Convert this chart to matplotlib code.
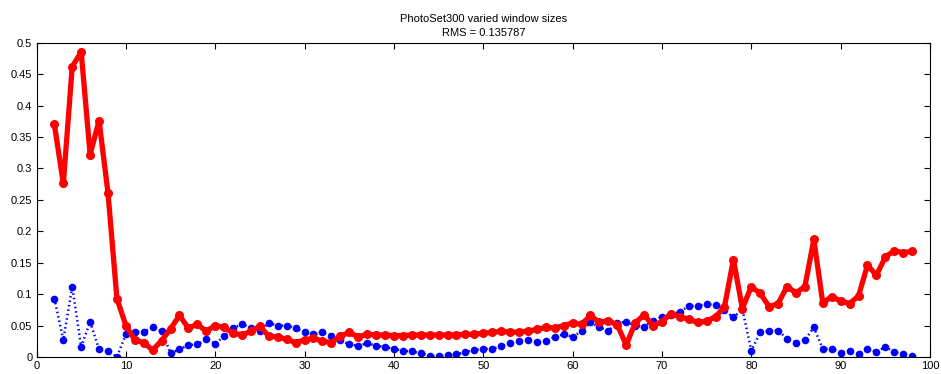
import matplotlib
matplotlib.use("Agg")
import matplotlib.pyplot as plt
import numpy as np

# Tamaños de ventana (eje x)
window_sizes = list(range(2, 99))

# Serie roja (línea gruesa)
red_values = [
    0.370, 0.276, 0.462, 0.485, 0.322, 0.376, 0.261, 0.093, 0.050, 0.027,
    0.023, 0.011, 0.026, 0.045, 0.066, 0.046, 0.052, 0.041, 0.050, 0.047,
    0.038, 0.035, 0.041, 0.049, 0.033, 0.032, 0.028, 0.023, 0.027, 0.030,
    0.025, 0.023, 0.033, 0.039, 0.032, 0.036, 0.035, 0.035, 0.034, 0.034,
    0.035, 0.035, 0.035, 0.035, 0.035, 0.035, 0.036, 0.036, 0.038, 0.039,
    0.041, 0.039, 0.040, 0.041, 0.044, 0.047, 0.046, 0.050, 0.054, 0.052,
    0.066, 0.055, 0.058, 0.051, 0.019, 0.054, 0.067, 0.050, 0.056, 0.069,
    0.064, 0.060, 0.055, 0.057, 0.064, 0.080, 0.155, 0.077, 0.112, 0.101,
    0.080, 0.085, 0.112, 0.102, 0.112, 0.187, 0.086, 0.096, 0.089, 0.085,
    0.097, 0.146, 0.130, 0.159, 0.169, 0.166, 0.168,
]

# Serie azul (línea punteada)
blue_values = [
    0.093, 0.027, 0.112, 0.016, 0.056, 0.012, 0.010, 0.000, 0.036, 0.040,
    0.040, 0.047, 0.041, 0.006, 0.012, 0.019, 0.020, 0.028, 0.021, 0.033,
    0.046, 0.052, 0.046, 0.042, 0.054, 0.050, 0.050, 0.046, 0.039, 0.036,
    0.039, 0.034, 0.027, 0.020, 0.018, 0.022, 0.018, 0.016, 0.013, 0.010,
    0.009, 0.006, 0.002, 0.001, 0.003, 0.004, 0.008, 0.011, 0.013, 0.013,
    0.017, 0.022, 0.026, 0.027, 0.024, 0.025, 0.032, 0.036, 0.032, 0.041,
    0.055, 0.047, 0.042, 0.054, 0.056, 0.050, 0.048, 0.058, 0.064, 0.067,
    0.072, 0.081, 0.081, 0.084, 0.083, 0.074, 0.063, 0.076, 0.010, 0.039,
    0.042, 0.042, 0.029, 0.023, 0.027, 0.047, 0.013, 0.013, 0.007, 0.009,
    0.005, 0.013, 0.008, 0.016, 0.008, 0.004, 0.002,
]

x_ticks = list(range(0, 101, 10))
y_ticks = [0, 0.05, 0.1, 0.15, 0.2, 0.25, 0.3, 0.35, 0.4, 0.45, 0.5]
y_tick_labels = ["0", "0.05", "0.1", "0.15", "0.2", "0.25", "0.3", "0.35",
                 "0.4", "0.45", "0.5"]

plt.rcParams["font.family"] = ["Liberation Sans", "DejaVu Sans"]

fig = plt.figure(figsize=(9.41, 3.74), dpi=100)
ax = fig.add_axes([0.0388, 0.0455, 0.9495, 0.8405])

# Línea azul punteada con marcadores
ax.plot(window_sizes, blue_values, color=(0, 0, 1), linestyle=(0, (0.6, 1.2)),
        linewidth=1.8, marker="o", markersize=5.5, markeredgewidth=0,
        zorder=2)
# Línea roja gruesa con marcadores
ax.plot(window_sizes, red_values, color=(1, 0, 0), linewidth=3.8,
        marker="o", markersize=6.5, markeredgewidth=0, zorder=3)

ax.set_xlim(0, 100)
ax.set_ylim(0, 0.5)
ax.set_xticks(x_ticks)
ax.set_yticks(y_ticks)
ax.set_yticklabels(y_tick_labels)
ax.tick_params(direction="in", top=True, right=True, length=4,
               width=0.8, labelsize=8, pad=3)
for spine in ax.spines.values():
    spine.set_linewidth(0.8)

ax.set_title("PhotoSet300 varied window sizes\nRMS = 0.135787",
             fontsize=8, linespacing=1.45, pad=5)

fig.savefig("out.png", dpi=100)
plt.close(fig)
